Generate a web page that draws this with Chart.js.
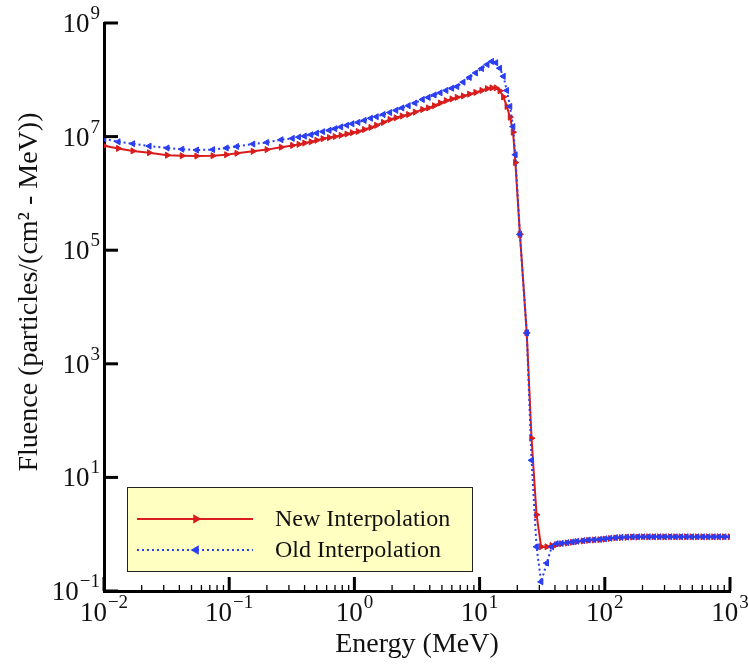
<!DOCTYPE html>
<html>
<head>
<meta charset="utf-8">
<script src="https://cdn.jsdelivr.net/npm/chart.js@4.4.0/dist/chart.umd.min.js"></script>
<style>
html, body { margin: 0; padding: 0; background: #fff; overflow: hidden; }
#wrap { position: relative; width: 748px; height: 669px; }
</style>
</head>
<body>
<div id="wrap"><canvas id="myChart"></canvas></div>
<script>
// energies (MeV), shared by both curves
const energy = [
  0.01, 0.013, 0.017, 0.023, 0.032, 0.042, 0.055, 0.074, 0.095,
  0.115, 0.155, 0.2, 0.26, 0.32, 0.36, 0.4, 0.45, 0.5, 0.56, 0.63, 0.7, 0.78, 0.87, 0.96,
  1.07, 1.2, 1.35, 1.5, 1.7, 1.92, 2.15, 2.4, 2.7, 3.05, 3.5, 3.9, 4.35, 4.85, 5.4, 6.0, 6.6, 7.4, 8.3, 9.3,
  10.4, 11.5, 12.5, 13.5, 14.5, 15.5, 16.5, 17.5, 18.5, 19.3, 21, 23.8, 26, 28.5, 31, 34.4, 37.7, 41, 45,
  50, 55, 60, 67, 74, 82, 91,
  100, 110, 122, 135, 150, 166, 183, 202, 223, 246, 272, 300, 332, 367, 405, 448, 495, 547, 605, 668, 738, 815, 900, 1000
];

const newInterp = [
  6.9e6, 6.2e6, 5.6e6, 5.2e6, 4.7e6, 4.6e6, 4.55e6, 4.6e6, 4.8e6,
  5.1e6, 5.5e6, 5.9e6, 6.5e6, 7.0e6, 7.3e6, 7.7e6, 8.1e6, 8.6e6, 9.2e6, 9.6e6, 1.0e7, 1.05e7, 1.11e7, 1.17e7,
  1.23e7, 1.33e7, 1.45e7, 1.58e7, 1.78e7, 2.0e7, 2.14e7, 2.3e7, 2.45e7, 2.7e7, 3.0e7, 3.2e7, 3.5e7, 3.9e7, 4.3e7, 4.6e7, 4.9e7, 5.2e7, 5.6e7, 6.0e7,
  6.5e7, 7.0e7, 7.2e7, 7.2e7, 6.4e7, 5.0e7, 3.4e7, 2.2e7, 1.2e7, 3.5e6, 1.9e5, 3.5e3, 49, 2.2, 0.6, 0.6, 0.63, 0.65, 0.68,
  0.7, 0.72, 0.74, 0.76, 0.78, 0.79, 0.8,
  0.82, 0.84, 0.86, 0.87, 0.88, 0.89, 0.89, 0.9, 0.9, 0.9, 0.9, 0.9, 0.9, 0.9, 0.9, 0.9, 0.9, 0.9, 0.9, 0.9, 0.9, 0.9, 0.9, 0.9
];

const oldInterp = [
  9.2e6, 8.1e6, 7.5e6, 6.8e6, 6.3e6, 6.0e6, 5.8e6, 5.9e6, 6.3e6,
  6.7e6, 7.4e6, 7.9e6, 8.8e6, 9.3e6, 9.8e6, 1.02e7, 1.08e7, 1.15e7, 1.22e7, 1.29e7, 1.38e7, 1.48e7, 1.58e7, 1.68e7,
  1.78e7, 1.93e7, 2.1e7, 2.24e7, 2.45e7, 2.65e7, 2.9e7, 3.2e7, 3.5e7, 3.9e7, 4.5e7, 4.9e7, 5.4e7, 5.9e7, 6.5e7, 7.1e7, 7.6e7, 9.1e7, 1.1e8, 1.32e8,
  1.58e8, 1.86e8, 2.1e8, 2.0e8, 1.6e8, 1.15e8, 6.5e7, 3.4e7, 1.5e7, 4.8e6, 1.9e5, 3.5e3, 20, 0.6, 0.145, 0.31, 0.6, 0.68, 0.69,
  0.71, 0.73, 0.75, 0.77, 0.79, 0.8, 0.81,
  0.83, 0.85, 0.87, 0.88, 0.89, 0.9, 0.9, 0.9, 0.9, 0.9, 0.9, 0.9, 0.9, 0.9, 0.9, 0.9, 0.9, 0.9, 0.9, 0.9, 0.9, 0.9, 0.9, 0.9
];

const seriesNames = ['New Interpolation', 'Old Interpolation'];
const xMajorTicks = [1e-2, 1e-1, 1, 10, 100, 1000];
const yMajorTicks = [1e-1, 1e1, 1e3, 1e5, 1e7, 1e9];
const yTitle = 'Fluence (particles/(cm\u00B2 - MeV))';
const xTitle = 'Energy (MeV)';

const serif = "'Liberation Serif', 'Times New Roman', serif";

// inward ticks + "10^n" labels, drawn by hand
const axisDecor = {
  id: 'axisDecor',
  afterDraw(chart) {
    const {ctx, chartArea: a, scales} = chart;
    ctx.save();
    ctx.strokeStyle = '#000';
    scales.x.ticks.forEach(t => {
      const px = scales.x.getPixelForValue(t.value);
      ctx.lineWidth = t.major ? 3 : 1.3;
      ctx.beginPath();
      ctx.moveTo(px, a.bottom);
      ctx.lineTo(px, a.bottom - (t.major ? 14 : 6));
      ctx.stroke();
    });
    scales.y.ticks.forEach(t => {
      const py = scales.y.getPixelForValue(t.value);
      ctx.lineWidth = 3;
      ctx.beginPath();
      ctx.moveTo(a.left, py);
      ctx.lineTo(a.left + 14, py);
      ctx.stroke();
    });

    const drawPow = (v, x, base, align) => {
      const exp = String(Math.round(Math.log10(v))).replace('-', '\u2212');
      ctx.font = '27px ' + serif;
      const wb = ctx.measureText('10').width;
      ctx.font = '19px ' + serif;
      const we = ctx.measureText(exp).width;
      const left = align === 'right' ? x - wb - we - 1 : x - (wb + we + 1) / 2;
      ctx.textAlign = 'left';
      ctx.textBaseline = 'alphabetic';
      ctx.font = '27px ' + serif;
      ctx.fillText('10', left, base);
      ctx.font = '19px ' + serif;
      ctx.fillText(exp, left + wb + 1, base - 13);
    };
    ctx.fillStyle = '#111';
    xMajorTicks.forEach(v => drawPow(v, scales.x.getPixelForValue(v), a.bottom + 30, 'center'));
    yMajorTicks.forEach(v => drawPow(v, a.left - 4, scales.y.getPixelForValue(v) + 9, 'right'));

    // y axis title
    ctx.translate(30, 292);
    ctx.rotate(-Math.PI / 2);
    ctx.textAlign = 'center';
    ctx.textBaseline = 'middle';
    ctx.font = '28px ' + serif;
    ctx.fillText(yTitle, 0, 0);
    ctx.restore();
  }
};

const legendBox = {
  id: 'legendBox',
  afterDraw(chart) {
    const {ctx, chartArea: a} = chart;
    const x = a.left + 23, y = a.bottom - 104, w = 345, h = 84;
    ctx.save();
    ctx.fillStyle = '#ffffc2';
    ctx.fillRect(x, y, w, h);
    ctx.strokeStyle = '#222';
    ctx.lineWidth = 1;
    ctx.strokeRect(x + 0.5, y + 0.5, w, h);
    const list = chart.data.datasets.slice().sort((p, q) => p.legendIndex - q.legendIndex);
    list.forEach((ds, i) => {
      const ly = y + 32 + i * 31;
      ctx.strokeStyle = ds.borderColor;
      ctx.lineWidth = ds.borderWidth;
      ctx.setLineDash(ds.borderDash || []);
      ctx.beginPath();
      ctx.moveTo(x + 10, ly);
      ctx.lineTo(x + 126, ly);
      ctx.stroke();
      ctx.setLineDash([]);
      ctx.fillStyle = ds.backgroundColor;
      Chart.helpers.drawPoint(ctx, {pointStyle: 'triangle', rotation: ds.pointRotation, radius: 3.5, borderWidth: 1}, x + 69, ly);
      ctx.fillStyle = '#111';
      ctx.font = '24px ' + serif;
      ctx.textBaseline = 'middle';
      ctx.fillText(ds.label, x + 148, ly + 1);
    });
    ctx.restore();
  }
};

const dataGraph = {
  datasets: [
    {
      label: seriesNames[1],
      legendIndex: 1,
      data: energy.map((e, i) => ({x: e, y: oldInterp[i]})),
      borderColor: '#2a3ef2',
      backgroundColor: '#2a3ef2',
      borderWidth: 2,
      borderDash: [2, 3],
      pointStyle: 'triangle',
      pointRotation: -90,
      pointRadius: 3.5,
      pointBorderWidth: 1,
      order: 0
    },
    {
      label: seriesNames[0],
      legendIndex: 0,
      data: energy.map((e, i) => ({x: e, y: newInterp[i]})),
      borderColor: '#d91c1c',
      backgroundColor: '#d91c1c',
      borderWidth: 2,
      pointStyle: 'triangle',
      pointRotation: 90,
      pointRadius: 3.5,
      pointBorderWidth: 1,
      order: 1
    }
  ]
};

const config = {
  type: 'line',
  data: dataGraph,
  plugins: [axisDecor, legendBox],
  options: {
    responsive: true,
    maintainAspectRatio: false,
    animation: false,
    layout: {padding: {top: 23, right: 18, left: 0, bottom: 0}},
    plugins: {legend: {display: false}, tooltip: {enabled: false}},
    scales: {
      x: {
        type: 'logarithmic',
        min: 0.01,
        max: 1000,
        grid: {display: false, drawTicks: false},
        border: {display: true, color: '#000', width: 3},
        afterBuildTicks: scale => {
          const ticks = [];
          xMajorTicks.forEach((v, i) => {
            ticks.push({value: v, major: true});
            if (i < xMajorTicks.length - 1) {
              for (let m = 2; m < 10; m++) ticks.push({value: v * m, major: false});
            }
          });
          scale.ticks = ticks;
        },
        afterFit: scale => { scale.height = 78; },
        ticks: {display: false, autoSkip: false},
        title: {
          display: true,
          text: xTitle,
          color: '#111',
          font: {family: serif, size: 28},
          padding: {top: 0, bottom: 8}
        }
      },
      y: {
        type: 'logarithmic',
        min: 0.1,
        max: 1e9,
        grid: {display: false, drawTicks: false},
        border: {display: true, color: '#000', width: 3},
        afterBuildTicks: scale => {
          scale.ticks = yMajorTicks.map(v => ({value: v, major: true}));
        },
        afterFit: scale => { scale.width = 104; },
        ticks: {display: false, autoSkip: false},
        title: {display: false}
      }
    }
  }
};

const myChart = new Chart(document.getElementById('myChart'), config);
</script>
</body>
</html>
